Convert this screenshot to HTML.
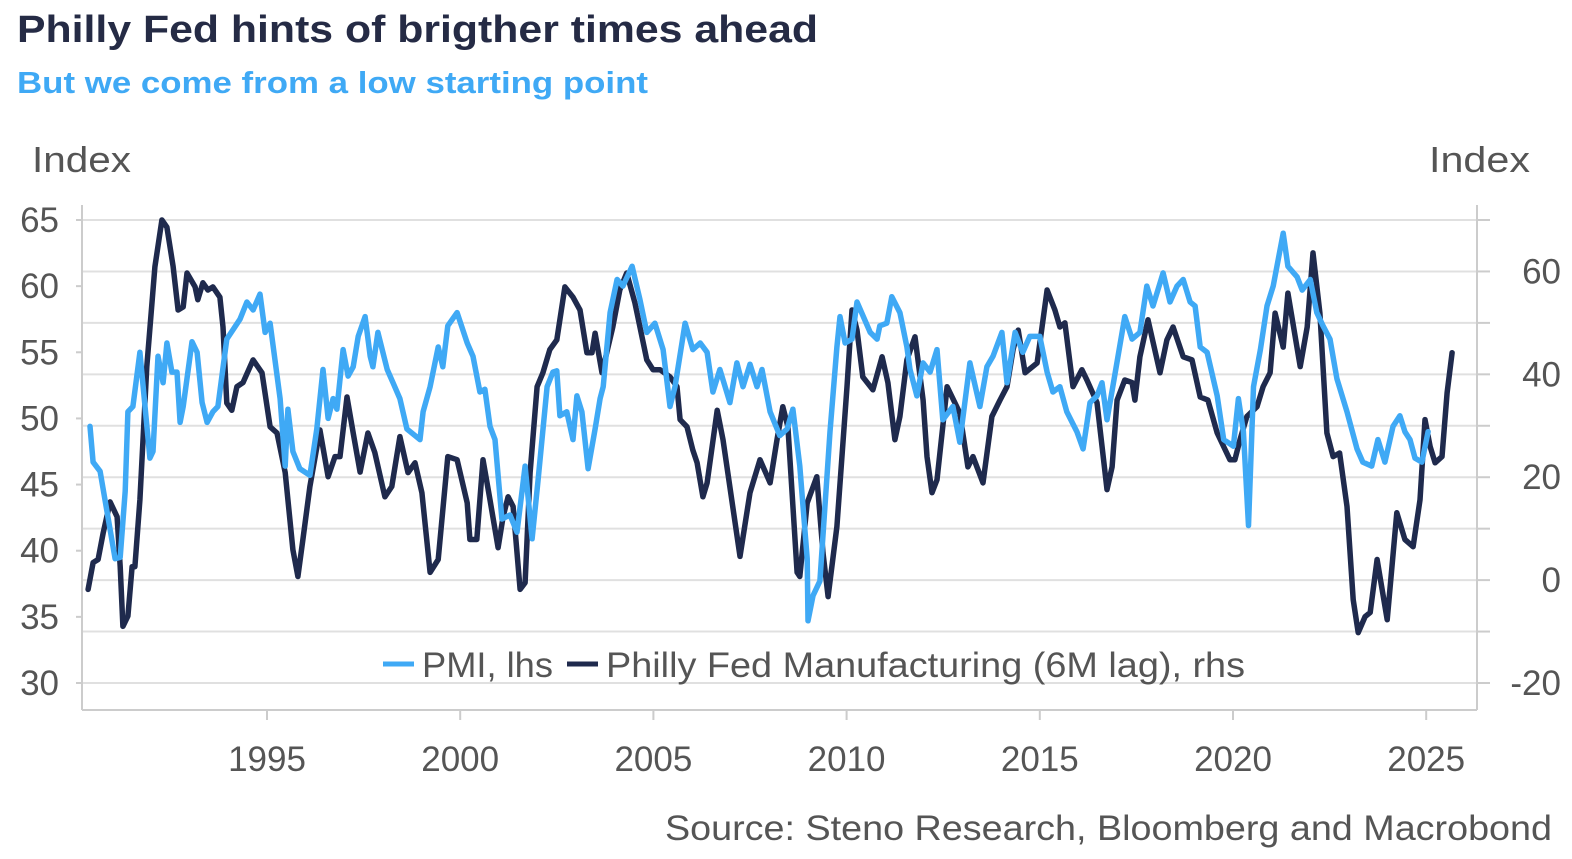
<!DOCTYPE html>
<html><head><meta charset="utf-8"><style>
html,body{margin:0;padding:0;background:#fff;width:1572px;height:859px;overflow:hidden;font-family:"Liberation Sans",sans-serif;}
svg{display:block}
</style></head><body>
<svg width="1572" height="859" viewBox="0 0 1572 859" id="chart">
<text x="17" y="42" font-size="38" font-weight="bold" fill="#252b45" textLength="801" lengthAdjust="spacingAndGlyphs">Philly Fed hints of brigther times ahead</text>
<text x="17" y="93" font-size="31" font-weight="bold" fill="#3fa9f5" textLength="631" lengthAdjust="spacingAndGlyphs">But we come from a low starting point</text>
<text x="32" y="172" font-size="36" fill="#555" textLength="99" lengthAdjust="spacingAndGlyphs">Index</text>
<text x="1429" y="172" font-size="36" fill="#555" textLength="101" lengthAdjust="spacingAndGlyphs">Index</text>
<g id="grid"></g>
<g id="axes"></g>
<g id="series"></g>
<g>
<line x1="383" y1="664" x2="414" y2="664" stroke="#3fa9f5" stroke-width="5"/>
<text x="422" y="677" font-size="35" fill="#555" textLength="131" lengthAdjust="spacingAndGlyphs">PMI, lhs</text>
<line x1="567" y1="664" x2="598" y2="664" stroke="#1f2a4d" stroke-width="5"/>
<text x="606" y="677" font-size="35" fill="#555" textLength="639" lengthAdjust="spacingAndGlyphs">Philly Fed Manufacturing (6M lag), rhs</text>
</g>
<text x="665" y="840" font-size="35" fill="#555" textLength="887" lengthAdjust="spacingAndGlyphs">Source: Steno Research, Bloomberg and Macrobond</text>
</svg>
<script>
const leftTicks=[30,35,40,45,50,55,60,65];
const rightTicks=[-20,0,20,40,60];
const rightGrid=[-20,-10,0,10,20,30,40,50,60,70];
const xTicks=[1995,2000,2005,2010,2015,2020,2025];
const pmiDates=[1990.42,1990.50,1990.68,1991.07,1991.20,1991.33,1991.40,1991.53,1991.71,1991.97,1992.05,1992.18,1992.31,1992.41,1992.54,1992.67,1992.75,1992.83,1993.06,1993.19,1993.32,1993.45,1993.60,1993.73,1993.96,1994.30,1994.48,1994.64,1994.82,1994.95,1995.08,1995.34,1995.47,1995.54,1995.67,1995.85,1996.11,1996.29,1996.45,1996.58,1996.71,1996.81,1996.97,1997.10,1997.23,1997.36,1997.54,1997.67,1997.74,1997.87,1998.11,1998.26,1998.44,1998.62,1998.96,1999.04,1999.22,1999.43,1999.55,1999.68,1999.92,2000.18,2000.33,2000.51,2000.64,2000.77,2000.90,2001.08,2001.29,2001.47,2001.68,2001.86,2002.01,2002.25,2002.40,2002.50,2002.58,2002.76,2002.92,2003.02,2003.15,2003.31,2003.49,2003.62,2003.70,2003.88,2004.06,2004.21,2004.45,2004.65,2004.83,2005.04,2005.25,2005.43,2005.56,2005.82,2006.02,2006.21,2006.39,2006.54,2006.72,2006.98,2007.16,2007.32,2007.50,2007.68,2007.81,2008.02,2008.27,2008.46,2008.61,2008.79,2008.98,2009.00,2009.13,2009.31,2009.57,2009.75,2009.83,2009.96,2010.14,2010.27,2010.61,2010.79,2010.86,2011.04,2011.17,2011.38,2011.56,2011.64,2011.82,2011.98,2012.16,2012.34,2012.49,2012.75,2012.93,2013.19,2013.45,2013.63,2013.79,2014.02,2014.15,2014.36,2014.56,2014.74,2015.00,2015.19,2015.34,2015.52,2015.70,2015.96,2016.12,2016.30,2016.48,2016.61,2016.74,2016.89,2017.20,2017.39,2017.59,2017.77,2017.93,2018.19,2018.37,2018.55,2018.71,2018.89,2019.02,2019.15,2019.33,2019.59,2019.76,2020.01,2020.14,2020.27,2020.40,2020.53,2020.71,2020.88,2021.04,2021.30,2021.42,2021.66,2021.79,2022.00,2022.17,2022.33,2022.51,2022.69,2022.95,2023.21,2023.36,2023.59,2023.75,2023.93,2024.14,2024.32,2024.45,2024.58,2024.71,2024.89,2025.05];
const pmiValues=[49.4,46.7,46.0,39.4,39.5,44.5,50.5,50.9,55.0,47.0,47.5,54.7,52.7,55.7,53.5,53.5,49.7,50.9,55.8,55.0,51.2,49.7,50.5,50.9,56.0,57.5,58.8,58.2,59.4,56.5,57.2,51.5,46.4,50.7,47.5,46.2,45.7,49.2,53.7,50.0,51.5,50.7,55.2,53.2,53.9,56.2,57.7,54.7,53.9,56.5,53.7,52.7,51.5,49.2,48.4,50.5,52.4,55.4,53.9,57.0,58.0,55.7,54.7,52.0,52.2,49.4,48.4,42.4,42.7,41.4,46.4,40.9,45.2,52.4,53.5,53.6,50.2,50.5,48.4,51.7,50.5,46.2,49.2,51.5,52.4,58.0,60.5,60.0,61.5,59.0,56.5,57.2,55.2,50.9,52.4,57.2,55.2,55.7,55.0,52.0,53.7,51.2,54.2,52.4,54.1,52.4,53.7,50.5,48.7,49.2,50.7,46.4,39.4,34.7,36.6,37.7,49.0,55.4,57.7,55.7,56.0,58.8,56.5,56.0,57.0,57.2,59.2,58.0,55.4,53.7,51.7,54.2,53.5,55.2,49.9,50.9,48.2,54.2,50.9,53.9,54.7,56.5,52.7,56.5,55.0,56.2,56.2,53.5,52.0,52.4,50.5,49.0,47.7,51.2,51.7,52.7,49.9,52.4,57.7,56.0,56.5,60.0,58.5,61.0,58.8,60.0,60.5,58.8,58.5,55.4,55.0,51.7,48.4,47.9,51.5,49.0,41.9,52.4,55.2,58.5,60.0,64.0,61.5,60.7,59.7,60.5,58.0,57.0,56.0,53.0,50.5,47.7,46.7,46.4,48.4,46.7,49.4,50.2,49.0,48.4,47.0,46.7,49.0];
const phillyDates=[1990.37,1990.50,1990.63,1990.76,1990.94,1991.12,1991.20,1991.27,1991.40,1991.51,1991.58,1991.71,1991.89,1992.10,1992.28,1992.41,1992.57,1992.70,1992.83,1992.93,1993.14,1993.21,1993.34,1993.47,1993.60,1993.78,1993.86,1993.96,1994.09,1994.22,1994.38,1994.64,1994.87,1995.08,1995.26,1995.47,1995.67,1995.80,1995.93,1996.11,1996.37,1996.58,1996.76,1996.89,1997.07,1997.23,1997.41,1997.61,1997.79,1998.05,1998.23,1998.44,1998.65,1998.83,1999.01,1999.22,1999.43,1999.68,1999.92,2000.18,2000.25,2000.43,2000.59,2000.77,2000.98,2001.11,2001.24,2001.37,2001.55,2001.68,2001.81,2001.99,2002.14,2002.32,2002.50,2002.71,2002.92,2003.10,2003.28,2003.41,2003.49,2003.67,2003.95,2004.13,2004.31,2004.52,2004.83,2004.99,2005.17,2005.43,2005.61,2005.69,2005.87,2006.02,2006.13,2006.28,2006.39,2006.65,2006.80,2007.24,2007.50,2007.76,2008.02,2008.20,2008.35,2008.48,2008.72,2008.79,2008.98,2009.23,2009.39,2009.52,2009.75,2010.01,2010.14,2010.27,2010.42,2010.68,2010.92,2011.07,2011.25,2011.38,2011.56,2011.77,2011.98,2012.08,2012.21,2012.34,2012.60,2012.93,2013.14,2013.27,2013.53,2013.76,2013.97,2014.15,2014.31,2014.44,2014.62,2014.93,2015.00,2015.19,2015.39,2015.52,2015.65,2015.86,2016.09,2016.22,2016.48,2016.74,2016.87,2017.00,2017.20,2017.39,2017.46,2017.59,2017.80,2018.11,2018.29,2018.45,2018.71,2018.94,2019.15,2019.35,2019.59,2019.92,2020.05,2020.18,2020.36,2020.62,2020.78,2020.96,2021.09,2021.30,2021.42,2021.74,2021.92,2022.07,2022.25,2022.43,2022.59,2022.76,2022.95,2023.11,2023.24,2023.42,2023.55,2023.73,2023.99,2024.24,2024.45,2024.66,2024.84,2024.97,2025.10,2025.23,2025.41,2025.54,2025.67];
const phillyValues=[-1.8,3.4,4.0,9.2,15.2,12.3,2.6,-9.0,-7.0,2.6,2.6,15.6,41.5,60.9,70.0,68.6,61.0,52.5,53.1,59.7,57.0,54.5,57.8,56.4,57.0,55.0,49.2,34.4,33.0,37.6,38.4,42.8,40.3,29.8,28.6,20.9,5.9,0.7,7.9,18.2,29.2,20.1,24.0,24.0,35.6,28.6,21.0,28.6,24.8,16.2,18.2,27.9,20.9,22.8,17.0,1.5,4.0,24.0,23.4,15.0,7.9,7.9,23.4,15.6,6.3,12.3,16.2,14.3,-1.8,-0.5,20.9,37.6,40.3,44.8,46.7,57.0,55.0,52.5,44.2,44.2,48.0,40.3,49.2,56.4,59.7,53.9,42.8,40.9,40.9,39.5,37.6,31.2,29.8,25.3,22.8,16.2,18.9,33.0,27.3,4.6,17.0,23.4,18.9,27.3,33.7,29.8,1.5,0.7,15.0,20.1,5.3,-3.2,10.4,37.6,52.5,48.6,39.5,37.0,43.4,38.4,27.3,31.8,42.8,47.3,35.0,24.0,17.0,19.5,37.6,32.5,22.0,24.0,18.9,31.8,35.0,37.6,44.8,48.6,40.3,42.2,46.0,56.4,52.5,49.2,50.0,37.6,40.9,38.9,34.5,17.6,22.0,35.0,38.9,38.4,35.0,43.4,50.6,40.3,46.7,49.2,43.4,42.8,35.6,35.0,28.6,23.4,23.4,27.3,31.8,33.7,37.6,40.3,51.9,45.3,55.8,41.5,49.2,63.6,51.9,28.6,24.0,24.7,14.3,-3.8,-10.2,-7.1,-6.3,4.0,-7.7,13.1,7.9,6.5,15.6,31.2,26.0,22.8,24.0,36.4,44.2];

const NS='http://www.w3.org/2000/svg';
const L=82,R=1477,T=220,B=683;
function xS(yr){return 267+(yr-1995)*38.64;}
function yL(v){return T+(65-v)*(B-T)/35;}
function yR(v){return T+(70-v)*(B-T)/90;}
function mk(tag,attrs,parent){const e=document.createElementNS(NS,tag);for(const k in attrs)e.setAttribute(k,attrs[k]);parent.appendChild(e);return e;}
const grid=document.getElementById('grid'),axes=document.getElementById('axes'),series=document.getElementById('series');
rightGrid.forEach(v=>{
  const g=mk('line',{x1:L,x2:R,y1:yR(v),y2:yR(v),stroke:'#e0e0e0','stroke-width':2},grid);
  
  
  const t=mk('line',{x1:R,x2:R+13,y1:yR(v),y2:yR(v),stroke:'#ccc','stroke-width':2},axes);
  
  
});
const a1=mk('line',{x1:L,x2:L,y1:205,y2:710,stroke:'#ccc','stroke-width':2},axes);


const a2=mk('line',{x1:R,x2:R,y1:205,y2:710,stroke:'#ccc','stroke-width':2},axes);


const a3=mk('line',{x1:L,x2:R,y1:710,y2:710,stroke:'#ccc','stroke-width':2},axes);


leftTicks.forEach(v=>{
  const m=mk('line',{x1:L-6,x2:L,y1:yL(v),y2:yL(v),stroke:'#ccc','stroke-width':2},axes);
  
  
  const t=mk('text',{x:59,y:yL(v)+12,'font-size':35,fill:'#555','text-anchor':'end'},axes);
  t.textContent=v;
  
  
});
rightTicks.forEach(v=>{
  const t=mk('text',{x:1561,y:yR(v)+12,'font-size':35,fill:'#555','text-anchor':'end'},axes);
  t.textContent=v;
  
  
});
xTicks.forEach(v=>{
  const m=mk('line',{x1:xS(v),x2:xS(v),y1:710,y2:720,stroke:'#ccc','stroke-width':2},axes);
  
  
  const t=mk('text',{x:xS(v),y:771,'font-size':35,fill:'#555','text-anchor':'middle'},axes);
  t.textContent=v;
  
  
});
function line(dates,vals,yf,color,name){
  const d=dates.map((t,i)=>(i?'L':'M')+xS(t).toFixed(1)+','+yf(vals[i]).toFixed(1)).join('');
  const p=mk('path',{d:d,fill:'none',stroke:color,'stroke-width':5.5,'stroke-linejoin':'round','stroke-linecap':'round'},series);
  
  
}
line(phillyDates,phillyValues,yR,'#1f2a4d','philly-fed-line');
line(pmiDates,pmiValues,yL,'#3fa9f5','pmi-line');
</script>
</body></html>
